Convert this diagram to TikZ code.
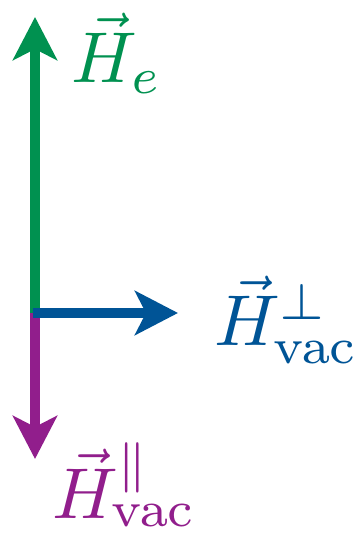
\documentclass[tikz,border=0pt]{standalone}
\usetikzlibrary{arrows.meta}
\definecolor{hgreen}{RGB}{0,145,80}
\definecolor{hblue}{RGB}{0,84,150}
\definecolor{hpurple}{RGB}{145,30,140}
\begin{document}
\begin{tikzpicture}[x=1pt,y=1pt,
  vecarrow/.style={line width=10pt,-{Stealth[length=43pt,width=44pt,inset=11pt]}},
  lab/.style={inner sep=0pt,font=\fontsize{10}{12}\selectfont,scale=7.2}]
\useasboundingbox (0,0) rectangle (361,533);
\coordinate (O) at (35,220);
\coordinate (Ot) at (33,220);
\coordinate (G) at (35,516);
\coordinate (B) at (178,220);
\coordinate (P) at (35,74);
\draw[vecarrow,hgreen] (O) -- (G);
\draw[vecarrow,hpurple] (O) -- (P);
\draw[vecarrow,hblue] (Ot) -- (B);
\node[lab,text=hgreen] (le) at (117,480) {$\vec{H}_e$};
\node[lab,text=hblue] (lp) at (286.5,213) {$\vec{H}^{\perp}_{\mathrm{vac}}$};
\node[lab,text=hpurple] (lq) at (124.5,48) {$\vec{H}^{\parallel}_{\mathrm{vac}}$};
\end{tikzpicture}
\end{document}
